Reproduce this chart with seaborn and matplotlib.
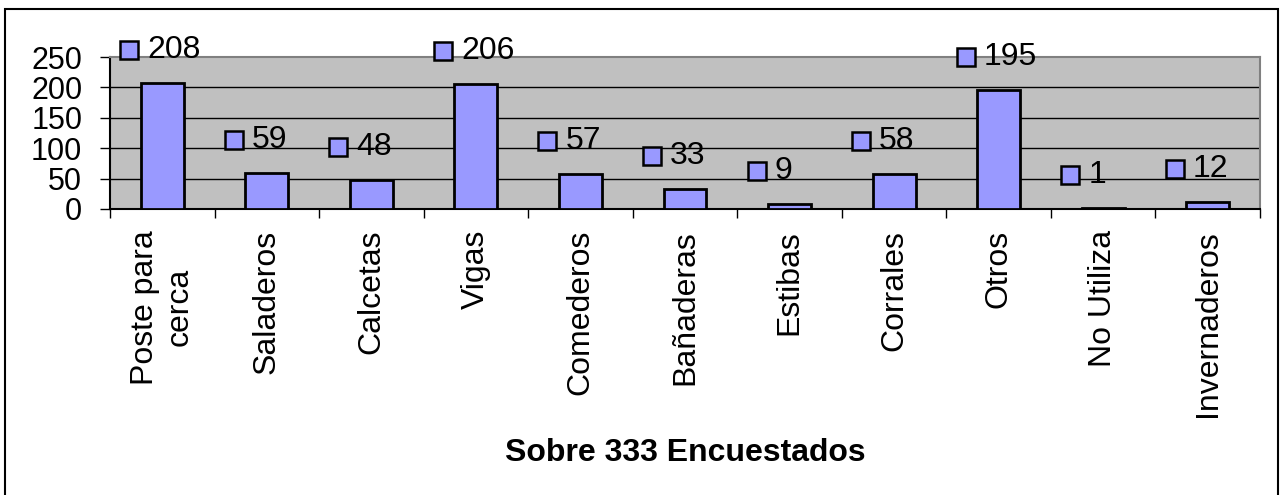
#import libraries
import matplotlib
matplotlib.use('Agg')
import matplotlib.pyplot as plt
import matplotlib.patches as mpatches
from matplotlib.transforms import offset_copy
import seaborn as sns
import numpy as np

#data
categorias = ['Poste para\ncerca', 'Saladeros', 'Calcetas', 'Vigas', 'Comederos',
              'Bañaderas', 'Estibas', 'Corrales', 'Otros', 'No Utiliza', 'Invernaderos']
valores = [208, 59, 48, 206, 57, 33, 9, 58, 195, 1, 12]
y_ticks = [0, 50, 100, 150, 200, 250]
titulo_x = 'Sobre 333 Encuestados'

#style
sns.set_style('white')
plt.rcParams['font.family'] = ['Liberation Sans', 'DejaVu Sans']
plt.rcParams['text.color'] = 'black'
plt.rcParams['xtick.color'] = 'black'
plt.rcParams['ytick.color'] = 'black'
plt.rcParams['axes.labelcolor'] = 'black'
bar_color = '#9999FF'

fig = plt.figure(figsize=(12.85, 4.95), dpi=100)
ax = fig.add_axes([110/1285, 1 - 209/495, 1150/1285, 152/495])
ax.set_facecolor('#C0C0C0')

#bars
sns.barplot(x=categorias, y=valores, color=bar_color, saturation=1, width=0.41,
            edgecolor='black', linewidth=2.0, ax=ax, zorder=3)

ax.set_ylim(0, 250)
ax.set_xlim(-0.5, len(categorias) - 0.5)
ax.set_yticks(y_ticks)
ax.set_yticklabels([str(t) for t in y_ticks], fontsize=22)

#gridlines
for t in y_ticks[1:-1]:
    ax.axhline(t, color='black', lw=1.0, zorder=1)

#spines
ax.spines['left'].set_color('black')
ax.spines['bottom'].set_color('black')
ax.spines['top'].set_color('#808080')
ax.spines['right'].set_color('#808080')
for s in ax.spines.values():
    s.set_linewidth(1.5)
    s.set_visible(True)

#ticks
ax.tick_params(axis='y', direction='out', length=7, width=1, color='black', pad=13, left=True)
ax.set_xticks(np.arange(len(categorias)))
ax.set_xticklabels(categorias, rotation=90, ha='center', va='top', fontsize=23,
                   multialignment='center')
ax.tick_params(axis='x', which='major', length=0, pad=15)
ax.set_xticks(np.arange(len(categorias) + 1) - 0.5, minor=True)
ax.tick_params(axis='x', which='minor', direction='out', length=6.5, width=1,
               color='black', bottom=True)

#data labels with legend key squares
x_pos = np.arange(len(categorias))
marker_tr = offset_copy(ax.transData, fig=fig, x=-33, y=33, units='dots')
ax.plot(x_pos, valores, linestyle='none', marker='s', markersize=12.5,
        markerfacecolor=bar_color, markeredgecolor='black', markeredgewidth=1.8,
        transform=marker_tr, clip_on=False, zorder=5)
text_tr = offset_copy(ax.transData, fig=fig, x=-15, y=33, units='dots')
for xi, v in zip(x_pos, valores):
    ax.text(xi, v, str(v), transform=text_tr, ha='left', va='center',
            fontsize=23, clip_on=False, zorder=5)

ax.set_xlabel('')
ax.set_ylabel('')
fig.text(685/1285, 1 - 453/495, titulo_x, ha='center', va='center',
         fontsize=23, fontweight='bold')

#outer border
fig.patches.append(mpatches.Rectangle((5/1285, -0.05), 1273/1285, 1.05 - 9/495,
                                      transform=fig.transFigure, fill=False,
                                      edgecolor='black', lw=1.5))

fig.savefig('out.png', dpi=100, facecolor='white')
